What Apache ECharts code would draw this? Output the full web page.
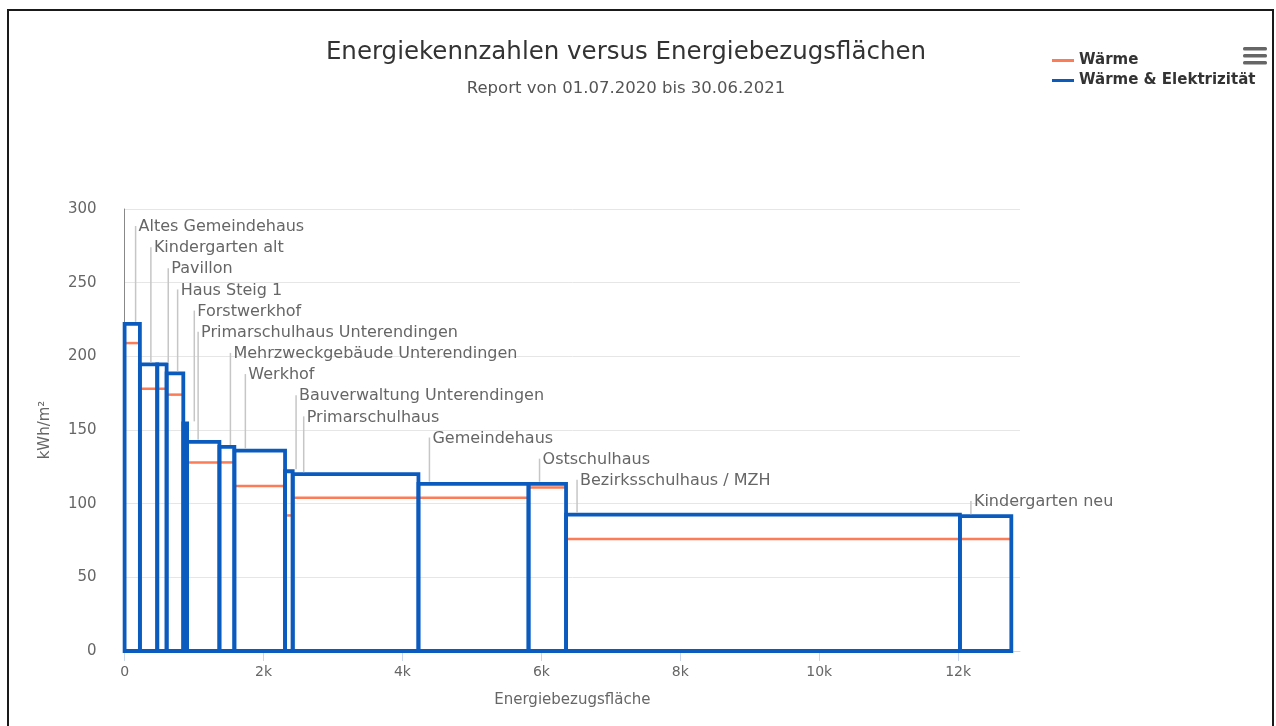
<!DOCTYPE html>
<html>
<head>
<meta charset="utf-8">
<title>Energiekennzahlen versus Energiebezugsflächen</title>
<script src="https://cdn.jsdelivr.net/npm/echarts@6/dist/echarts.min.js"></script>
<style>
  html, body { margin: 0; padding: 0; background: #fff; }
  #chart { width: 1276px; height: 726px; }
  /* schwarzer Rahmen wie im Screenshot */
  #frame { position: absolute; left: 7px; top: 9px; width: 1263px; height: 760px;
           border: 2px solid #1a1a1a; pointer-events: none; }
</style>
</head>
<body>
<div id="chart"></div>
<div id="frame"></div>
<script>
// Gebäude in Reihenfolge auf der x-Achse
const buildings = [
  'Altes Gemeindehaus', 'Kindergarten alt', 'Pavillon', 'Haus Steig 1', 'Forstwerkhof',
  'Primarschulhaus Unterendingen', 'Mehrzweckgebäude Unterendingen', 'Werkhof',
  'Bauverwaltung Unterendingen', 'Primarschulhaus', 'Gemeindehaus', 'Ostschulhaus',
  'Bezirksschulhaus / MZH', 'Kindergarten neu'
]
// Energiebezugsfläche je Gebäude (m²)
const areas = [220, 250, 135, 240, 55, 465, 215, 730, 110, 1810, 1585, 540, 5670, 740]
// Kennzahl Wärme & Elektrizität (kWh/m²)
const totalValues = [222, 194.5, 194.5, 188.5, 154.5, 142, 138.5, 136, 122, 120, 113.5, 113.5, 92.5, 91.5]
// Kennzahl Wärme (kWh/m²)
const heatValues = [209, 178, 178, 174, 146, 128, 128, 112, 92, 104, 104, 111, 76, 76]
const xTicks = [0, 2000, 4000, 6000, 8000, 10000, 12000]

const BLUE = '#0b5bbf'
const ORANGE = '#fb7c56'
const FONT = 'DejaVu Sans'

// Kumulierte Flächen -> Start/Ende je Gebäude
let acc = 0
const spans = areas.map(a => { const s = [acc, acc + a]; acc += a; return s })
const totalData = spans.map((s, i) => [s[0], s[1], totalValues[i]])
const heatData = spans.map((s, i) => [s[0], s[1], heatValues[i]])

const chart = echarts.init(document.getElementById('chart'))

// Rechteck je Gebäude
const renderBox = (params, api) => {
  const p0 = api.coord([api.value(0), api.value(2)])
  const p1 = api.coord([api.value(1), 0])
  return {
    type: 'rect',
    shape: { x: p0[0], y: p0[1], width: p1[0] - p0[0], height: p1[1] - p0[1] },
    style: { fill: 'none', stroke: BLUE, lineWidth: 3.8 }
  }
}

// waagrechte Linie für Wärme
const renderHeat = (params, api) => {
  const a = api.coord([api.value(0), api.value(2)])
  const b = api.coord([api.value(1), api.value(2)])
  return {
    type: 'line',
    shape: { x1: a[0], y1: a[1], x2: b[0], y2: b[1] },
    style: { stroke: ORANGE, lineWidth: 2.5 }
  }
}

// Beschriftung mit Führungslinie, treppenförmig gestapelt
const renderLabel = (params, api) => {
  const i = params.dataIndex
  const cs = params.coordSys
  const top = api.coord([api.value(0), api.value(2)])
  const lx = top[0] + 11
  const ty = cs.y + 18 + i * 21.15
  return {
    type: 'group',
    children: [
      { type: 'line', shape: { x1: lx, y1: ty - 1, x2: lx, y2: top[1] - 2 },
        style: { stroke: '#c6c6c6', lineWidth: 1.5 } },
      { type: 'text', x: lx + 3, y: ty,
        style: { text: buildings[i], fill: '#666', fontSize: 16, fontFamily: FONT,
                 verticalAlign: 'middle', align: 'left' } }
    ]
  }
}

const option = {
  animation: false,
  textStyle: { fontFamily: FONT },
  title: [
    {
      text: 'Energiekennzahlen versus Energiebezugsflächen',
      left: 621, top: 35, textAlign: 'center',
      textStyle: { color: '#333', fontSize: 24.5, fontWeight: 'normal', fontFamily: FONT }
    },
    {
      text: 'Report von 01.07.2020 bis 30.06.2021',
      left: 621, top: 75, textAlign: 'center',
      textStyle: { color: '#555', fontSize: 16.5, fontWeight: 'normal', fontFamily: FONT }
    }
  ],
  legend: {
    orient: 'vertical',
    left: 1047, top: 48,
    itemWidth: 22, itemHeight: 3, itemGap: 5,
    textStyle: { color: '#333', fontSize: 15, fontWeight: 'bold', fontFamily: FONT },
    data: [
      { name: 'Wärme', icon: 'rect' },
      { name: 'Wärme & Elektrizität', icon: 'rect' }
    ]
  },
  graphic: [
    // Menü-Symbol oben rechts
    { type: 'rect', left: 1243, top: 47, shape: { width: 24, height: 3.5, r: 1.5 }, style: { fill: '#666' } },
    { type: 'rect', left: 1243, top: 54, shape: { width: 24, height: 3.5, r: 1.5 }, style: { fill: '#666' } },
    { type: 'rect', left: 1243, top: 61, shape: { width: 24, height: 3.5, r: 1.5 }, style: { fill: '#666' } }
  ],
  grid: { left: 124.6, right: 256, top: 209, bottom: 75 },
  xAxis: {
    type: 'value',
    min: 0, max: 12890,
    name: 'Energiebezugsfläche',
    nameLocation: 'middle', nameGap: 42,
    nameTextStyle: { color: '#666', fontSize: 15, fontFamily: FONT },
    axisLine: { show: true, lineStyle: { color: '#ccd6eb', width: 1 } },
    axisTick: { show: true, length: 10, customValues: xTicks, lineStyle: { color: '#ccd6eb' } },
    axisLabel: {
      customValues: xTicks, margin: 14,
      color: '#666', fontSize: 14, fontFamily: FONT,
      formatter: v => v === 0 ? '0' : (v / 1000) + 'k'
    },
    splitLine: { show: false }
  },
  yAxis: {
    type: 'value',
    min: 0, max: 300, interval: 50,
    name: 'kWh/m²',
    nameLocation: 'middle', nameGap: 72,
    nameTextStyle: { color: '#666', fontSize: 15, fontFamily: FONT },
    axisLine: { show: true, lineStyle: { color: '#888', width: 1 } },
    axisTick: { show: false },
    axisLabel: { color: '#666', fontSize: 15, fontFamily: FONT, margin: 28 },
    splitLine: { lineStyle: { color: '#e6e6e6', width: 1 } }
  },
  series: [
    {
      name: 'Wärme', type: 'custom', renderItem: renderHeat,
      itemStyle: { color: ORANGE },
      encode: { x: [0, 1], y: 2 },
      data: heatData, z: 2
    },
    {
      name: 'Wärme & Elektrizität', type: 'custom', renderItem: renderBox,
      itemStyle: { color: BLUE },
      encode: { x: [0, 1], y: 2 },
      data: totalData, z: 3
    },
    {
      name: 'labels', type: 'custom', renderItem: renderLabel,
      encode: { x: [0, 1], y: 2 },
      data: totalData, z: 4, silent: true
    }
  ]
}

chart.setOption(option)
</script>
</body>
</html>
